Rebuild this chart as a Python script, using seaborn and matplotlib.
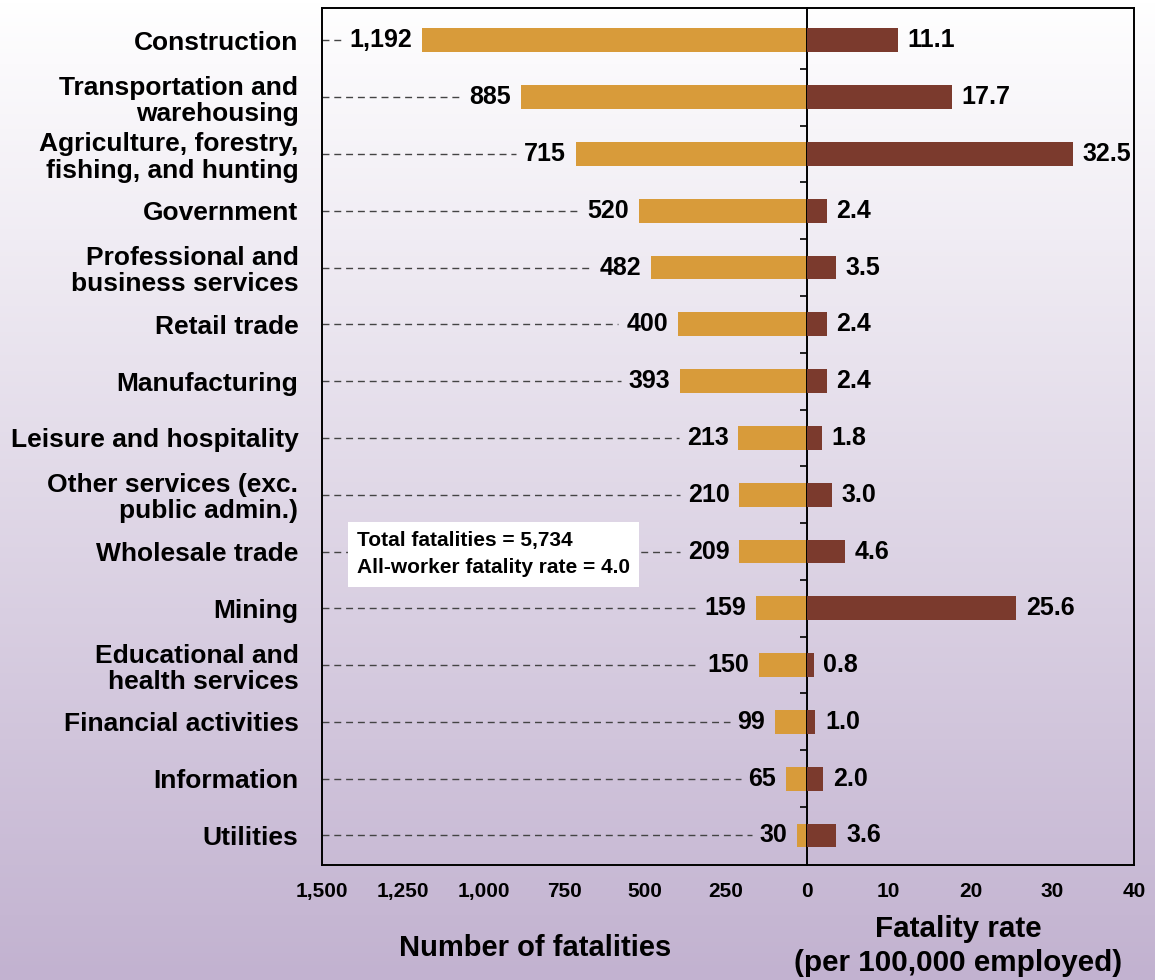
import numpy as np
import matplotlib
matplotlib.use("Agg")
import matplotlib.pyplot as plt
import seaborn as sns
from matplotlib.colors import LinearSegmentedColormap

industries = [
    "Construction",
    "Transportation and\nwarehousing",
    "Agriculture, forestry,\nfishing, and hunting",
    "Government",
    "Professional and\nbusiness services",
    "Retail trade",
    "Manufacturing",
    "Leisure and hospitality",
    "Other services (exc.\npublic admin.)",
    "Wholesale trade",
    "Mining",
    "Educational and\nhealth services",
    "Financial activities",
    "Information",
    "Utilities",
]
fatalities = [1192, 885, 715, 520, 482, 400, 393, 213, 210, 209, 159, 150, 99, 65, 30]
rates = [11.1, 17.7, 32.5, 2.4, 3.5, 2.4, 2.4, 1.8, 3.0, 4.6, 25.6, 0.8, 1.0, 2.0, 3.6]

count_ticks = [0, 250, 500, 750, 1000, 1250, 1500]
rate_ticks = [10, 20, 30, 40]

orange = "#D89B3A"
brown = "#7B3A2D"
W, H = 1155, 980

sns.set_style("white")
plt.rcParams["font.family"] = ["Liberation Sans", "DejaVu Sans"]
plt.rcParams["font.weight"] = "bold"
plt.rcParams["text.color"] = "black"
plt.rcParams["xtick.color"] = "black"
plt.rcParams["ytick.color"] = "black"

fig = plt.figure(figsize=(W / 100, H / 100), dpi=100)

# background gradient
bg = fig.add_axes([0, 0, 1, 1], zorder=-10)
cmap = LinearSegmentedColormap.from_list("bg", ["#FFFFFF", "#C2B2D0"])
bg.imshow(np.linspace(0, 1, 256).reshape(-1, 1), cmap=cmap, aspect="auto",
          extent=[0, 1, 0, 1])
bg.axis("off")

bottom = (H - 865) / H
height = (865 - 8) / H
ax1 = fig.add_axes([322 / W, bottom, (807 - 322) / W, height])
ax2 = fig.add_axes([807 / W, bottom, (1134 - 807) / W, height])
for ax in (ax1, ax2):
    ax.set_facecolor("none")

sns.barplot(x=fatalities, y=industries, ax=ax1, color=orange, width=0.42,
            orient="h", saturation=1, linewidth=0)
sns.barplot(x=rates, y=industries, ax=ax2, color=brown, width=0.42,
            orient="h", saturation=1, linewidth=0)

ax1.set_xlim(1500, 0)
ax2.set_xlim(0, 40)
for ax in (ax1, ax2):
    ax.set_ylim(14.52, -0.57)
    ax.set_xlabel("")
    ax.set_ylabel("")
    for s in ax.spines.values():
        s.set_linewidth(1.4)
        s.set_color("black")

ax2.spines["left"].set_visible(False)
ax2.set_yticks([])

ax1.set_xticks(count_ticks)
ax1.set_xticklabels([f"{t:,}" for t in count_ticks])
ax2.set_xticks(rate_ticks)
ax2.set_xticklabels([str(t) for t in rate_ticks])
for ax in (ax1, ax2):
    ax.tick_params(axis="x", direction="inout", length=16, width=1.4,
                   labelsize=15, pad=4)

ax1.tick_params(axis="y", direction="in", length=7, width=1, pad=17,
                labelsize=19)
ax1.set_yticks(np.arange(0.5, 14, 1), minor=True)
ax1.tick_params(axis="y", which="minor", direction="in", length=5,
                width=1.2, left=False, right=True)
for lbl in ax1.get_yticklabels():
    lbl.set_fontweight("bold")
    lbl.set_linespacing(1.12)
for lbl in ax1.get_xticklabels() + ax2.get_xticklabels():
    lbl.set_fontweight("bold")

# value labels
left_texts = []
for i, v in enumerate(fatalities):
    t = ax1.annotate(f"{v:,}", (v, i), xytext=(-7, 0), textcoords="offset points",
                     ha="right", va="center", fontsize=18, fontweight="bold")
    left_texts.append(t)
for i, v in enumerate(rates):
    ax2.annotate(f"{v:.1f}", (v, i), xytext=(7, 0), textcoords="offset points",
                 ha="left", va="center", fontsize=18, fontweight="bold")

# dashed leader lines from spine to the count labels
fig.canvas.draw()
renderer = fig.canvas.get_renderer()
inv = ax1.transData.inverted()
for i, t in enumerate(left_texts):
    bb = t.get_window_extent(renderer)
    x_end = inv.transform((bb.x0 - 8, 0))[0]
    ax1.plot([1500, x_end], [i, i], color="#444444", lw=1,
             linestyle=(0, (5, 3.5)), zorder=1)

# axis titles
fig.text(535 / W, (H - 948) / H, "Number of fatalities", ha="center",
         va="center", fontsize=21, fontweight="bold")
fig.text(958 / W, (H - 946) / H, "Fatality rate\n(per 100,000 employed)",
         ha="center", va="center", fontsize=21.3, fontweight="bold",
         linespacing=1.25)

# summary box
fig.text(357 / W, (H - 554) / H,
         "Total fatalities = 5,734\nAll-worker fatality rate = 4.0",
         ha="left", va="center", fontsize=15, fontweight="bold",
         linespacing=1.55,
         bbox=dict(boxstyle="square,pad=0.45", fc="white", ec="none"))

fig.savefig("out.png", dpi=100)
